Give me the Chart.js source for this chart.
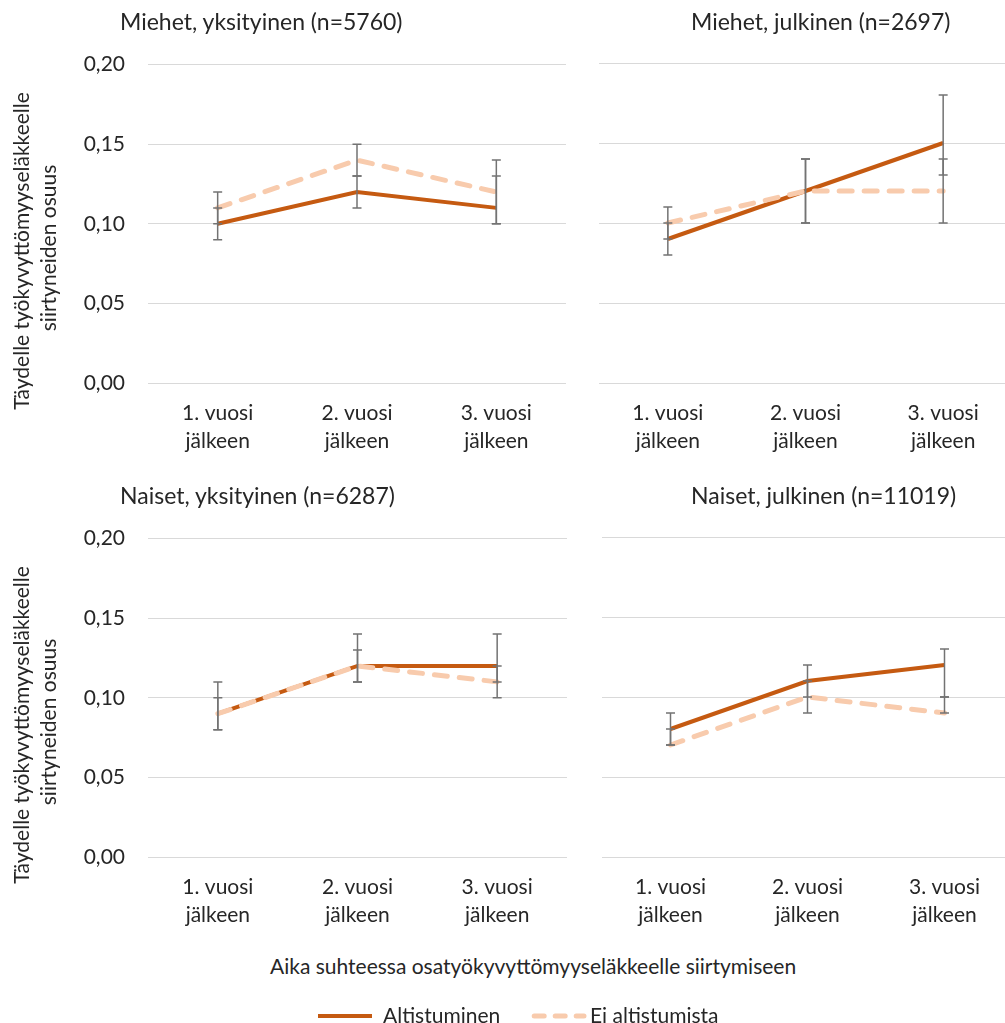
<!DOCTYPE html>
<html><head><meta charset="utf-8">
<script src="https://cdn.jsdelivr.net/npm/chart.js@4"></script>
<style>
html,body{margin:0;padding:0;background:#fff;}
#wrap{position:relative;width:1005px;height:1023px;overflow:hidden;font-family:Lato,'Open Sans',sans-serif;color:#262626;}
canvas{position:absolute;}
.t{position:absolute;white-space:nowrap;line-height:1;font-size:23px;}
.yt{position:absolute;width:420px;text-align:center;white-space:nowrap;font-size:21px;line-height:1;transform:translate(-50%,-50%) rotate(-90deg);}
</style></head><body><div id="wrap">
<canvas id="c1" width="566" height="434" style="left:0;top:29px"></canvas>
<canvas id="c2" width="413" height="420" style="left:599px;top:43px"></canvas>
<canvas id="c3" width="567" height="434" style="left:0;top:503px"></canvas>
<canvas id="c4" width="411" height="420" style="left:602px;top:517px"></canvas>
<div class="t" id="t1" style="left:120px;top:10px"></div>
<div class="t" id="t2" style="left:691px;top:10px"></div>
<div class="t" id="t3" style="left:120px;top:484px"></div>
<div class="t" id="t4" style="left:691px;top:484px"></div>
<div class="yt" id="y1a" style="left:20px;top:251px"></div>
<div class="yt" id="y1b" style="left:47px;top:248px"></div>
<div class="yt" id="y2a" style="left:20px;top:725px"></div>
<div class="yt" id="y2b" style="left:47px;top:722px"></div>
<div class="t" id="xt" style="left:270px;top:955px;font-size:21px"></div>
<svg style="position:absolute;left:0;top:0" width="1005" height="1023">
<line x1="318" y1="1016" x2="372" y2="1016" stroke="#C55A11" stroke-width="4"/>
<line x1="534.2" y1="1016" x2="584" y2="1016" stroke="#F8CBAD" stroke-width="5" stroke-linecap="round" stroke-dasharray="10 11"/>
</svg>
<div class="t" id="lg1" style="left:383px;top:1004px;font-size:21px"></div>
<div class="t" id="lg2" style="left:590px;top:1004px;font-size:21px"></div>
</div>
<script>
// ---- data ----
const categories = [['1. vuosi','jälkeen'],['2. vuosi','jälkeen'],['3. vuosi','jälkeen']];
const seriesNames = ['Altistuminen','Ei altistumista'];
const panelTitles = ['Miehet, yksityinen (n=5760)','Miehet, julkinen (n=2697)','Naiset, yksityinen (n=6287)','Naiset, julkinen (n=11019)'];
const yTitleLines = ['Täydelle työkyvyttömyyseläkkeelle','siirtyneiden osuus'];
const xTitle = 'Aika suhteessa osatyökyvyttömyyseläkkeelle siirtymiseen';
const yMin = 0, yMax = 0.20, yStep = 0.05;

const menPrivAlt     = [0.10, 0.12, 0.11];
const menPrivAltLow  = [0.09, 0.11, 0.10];
const menPrivAltHigh = [0.11, 0.13, 0.13];
const menPrivEi      = [0.11, 0.14, 0.12];
const menPrivEiLow   = [0.10, 0.13, 0.10];
const menPrivEiHigh  = [0.12, 0.15, 0.14];

const menPubAlt      = [0.09, 0.12, 0.15];
const menPubAltLow   = [0.08, 0.10, 0.13];
const menPubAltHigh  = [0.10, 0.14, 0.18];
const menPubEi       = [0.10, 0.12, 0.12];
const menPubEiLow    = [0.09, 0.10, 0.10];
const menPubEiHigh   = [0.11, 0.14, 0.14];

const womenPrivAlt     = [0.09, 0.12, 0.12];
const womenPrivAltLow  = [0.08, 0.11, 0.11];
const womenPrivAltHigh = [0.10, 0.14, 0.14];
const womenPrivEi      = [0.09, 0.12, 0.11];
const womenPrivEiLow   = [0.08, 0.11, 0.10];
const womenPrivEiHigh  = [0.11, 0.13, 0.12];

const womenPubAlt      = [0.08, 0.11, 0.12];
const womenPubAltLow   = [0.07, 0.10, 0.10];
const womenPubAltHigh  = [0.09, 0.12, 0.13];
const womenPubEi       = [0.07, 0.10, 0.09];
const womenPubEiLow    = [0.07, 0.09, 0.09];
const womenPubEiHigh   = [0.08, 0.11, 0.10];

// ---- text ----
['t1','t2','t3','t4'].forEach((id,i)=>document.getElementById(id).textContent = panelTitles[i]);
document.getElementById('y1a').textContent = yTitleLines[0];
document.getElementById('y1b').textContent = yTitleLines[1];
document.getElementById('y2a').textContent = yTitleLines[0];
document.getElementById('y2b').textContent = yTitleLines[1];
document.getElementById('xt').textContent = xTitle;
document.getElementById('lg1').textContent = seriesNames[0];
document.getElementById('lg2').textContent = seriesNames[1];

const FONT = "Lato, 'Open Sans', sans-serif";
const TEXT = '#262626';

const errorBarPlugin = {
  id: 'errorBars',
  afterDatasetsDraw(chart) {
    const ctx = chart.ctx, x = chart.scales.x, y = chart.scales.y;
    ctx.save();
    ctx.strokeStyle = '#737373';
    ctx.lineWidth = 1.5;
    chart.data.datasets.forEach(ds => {
      ds.errLow.forEach((lo, i) => {
        const hi = ds.errHigh[i];
        const px = x.getPixelForValue(i);
        const yl = y.getPixelForValue(lo), yh = y.getPixelForValue(hi);
        ctx.beginPath();
        ctx.moveTo(px, yl); ctx.lineTo(px, yh);
        ctx.moveTo(px - 4.5, yl); ctx.lineTo(px + 4.5, yl);
        ctx.moveTo(px - 4.5, yh); ctx.lineTo(px + 4.5, yh);
        ctx.stroke();
      });
    });
    ctx.restore();
  }
};

function makeChart(id, alt, altLo, altHi, ei, eiLo, eiHi, showY) {
  return new Chart(document.getElementById(id), {
    type: 'line',
    data: {
      labels: categories,
      datasets: [
        { label: seriesNames[0], data: alt, errLow: altLo, errHigh: altHi,
          borderColor: '#C55A11', backgroundColor: '#C55A11', borderWidth: 4,
          pointRadius: 0, tension: 0, order: 2, fill: false },
        { label: seriesNames[1], data: ei, errLow: eiLo, errHigh: eiHi,
          borderColor: '#F8CBAD', backgroundColor: '#F8CBAD', borderWidth: 5,
          borderDash: [13, 12], borderCapStyle: 'round',
          pointRadius: 0, tension: 0, order: 1, fill: false }
      ]
    },
    options: {
      responsive: false, animation: false, devicePixelRatio: 1, events: [],
      layout: { padding: { top: 20, left: 0, right: 0, bottom: 0 } },
      plugins: { legend: { display: false }, tooltip: { enabled: false }, title: { display: false } },
      scales: {
        x: {
          offset: true,
          grid: { display: false, drawTicks: false, offset: true },
          border: { display: false },
          ticks: { color: TEXT, font: { family: FONT, size: 21, lineHeight: 1.333 }, padding: 16, maxRotation: 0, autoSkip: false },
          afterFit(s) { s.height = 80; }
        },
        y: {
          min: yMin, max: yMax,
          grid: { color: '#d9d9d9', lineWidth: 1, drawTicks: false },
          border: { display: false },
          ticks: { display: showY, stepSize: yStep, padding: 23, color: TEXT,
                   font: { family: FONT, size: 21 },
                   callback: v => v.toFixed(2).replace('.', ',') },
          afterFit(s) { s.width = showY ? 148 : 0; }
        }
      }
    },
    plugins: [errorBarPlugin]
  });
}

makeChart('c1', menPrivAlt, menPrivAltLow, menPrivAltHigh, menPrivEi, menPrivEiLow, menPrivEiHigh, true);
makeChart('c2', menPubAlt, menPubAltLow, menPubAltHigh, menPubEi, menPubEiLow, menPubEiHigh, false);
makeChart('c3', womenPrivAlt, womenPrivAltLow, womenPrivAltHigh, womenPrivEi, womenPrivEiLow, womenPrivEiHigh, true);
makeChart('c4', womenPubAlt, womenPubAltLow, womenPubAltHigh, womenPubEi, womenPubEiLow, womenPubEiHigh, false);
</script>
</body></html>
